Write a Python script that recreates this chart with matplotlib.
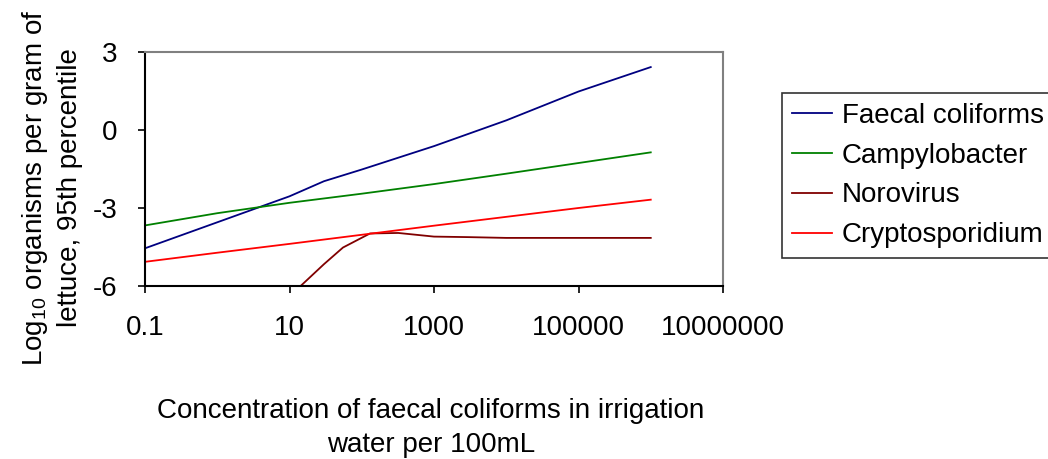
import matplotlib
matplotlib.use("Agg")
import matplotlib.pyplot as plt

plt.rcParams['font.family'] = ['Liberation Sans', 'DejaVu Sans']
plt.rcParams['mathtext.fontset'] = 'custom'
plt.rcParams['mathtext.rm'] = 'Liberation Sans'

# concentrations of faecal coliforms in irrigation water (per 100 mL)
fc_x = [0.1, 1, 10, 30, 100, 1000, 10000, 100000, 1000000]
fc_y = [-4.55, -3.55, -2.55, -1.97, -1.52, -0.62, 0.37, 1.48, 2.42]

campy_x = [0.1, 1, 10, 100, 1000, 10000, 100000, 1000000]
campy_y = [-3.67, -3.2, -2.8, -2.45, -2.08, -1.68, -1.27, -0.86]

noro_x = [10, 30, 55, 130, 320, 1000, 3000, 10000, 100000, 1000000]
noro_y = [-6.4, -5.16, -4.52, -3.98, -3.96, -4.10, -4.12, -4.15, -4.15, -4.15]

crypto_x = [0.1, 1, 10, 100, 1000, 10000, 100000, 1000000]
crypto_y = [-5.07, -4.72, -4.38, -4.03, -3.68, -3.34, -3.0, -2.68]

x_ticks = [0.1, 10, 1000, 100000, 10000000]
x_labels = ['0.1', '10', '1000', '100000', '10000000']
y_ticks = [3, 0, -3, -6]

fig = plt.figure(figsize=(10.48, 4.59), dpi=100)
ax = fig.add_axes([145 / 1048, 1 - 286 / 459, (723 - 145) / 1048, (286 - 52) / 459])

ax.plot(fc_x, fc_y, color='#000080', lw=1.3, label='Faecal coliforms')
ax.plot(campy_x, campy_y, color='#008000', lw=1.3, label='Campylobacter')
ax.plot(noro_x, noro_y, color='#800000', lw=1.3, label='Norovirus')
ax.plot(crypto_x, crypto_y, color='#FF0000', lw=1.3, label='Cryptosporidium')

ax.set_xscale('log')
ax.set_xlim(0.1, 10000000)
ax.set_ylim(-6, 3)
ax.set_xticks(x_ticks)
ax.set_xticklabels(x_labels)
ax.minorticks_off()
ax.set_yticks(y_ticks)
ax.set_yticklabels([str(v) for v in y_ticks])
ax.tick_params(axis='both', direction='out', length=5, width=1.2, labelsize=20)
ax.tick_params(axis='x', pad=16)
ax.tick_params(axis='y', pad=15)

for side in ['left', 'bottom']:
    ax.spines[side].set_color('black')
    ax.spines[side].set_linewidth(1.5)
for side in ['top', 'right']:
    ax.spines[side].set_color('#808080')
    ax.spines[side].set_linewidth(1.5)

fig.text(52 / 1048, 1 - 188 / 459,
         'Log$_{10}$ organisms per gram of\nlettuce, 95th percentile',
         rotation=90, ha='center', va='center', multialignment='center',
         fontsize=20, linespacing=1.35)
fig.text(431 / 1048, 1 - 428 / 459,
         'Concentration of faecal coliforms in irrigation\nwater per 100mL',
         ha='center', va='center', multialignment='center',
         fontsize=20, linespacing=1.4)

leg = ax.legend(loc='upper left', bbox_to_anchor=(782 / 1048, 1 - 93 / 459),
                bbox_transform=fig.transFigure, fontsize=20, frameon=True,
                fancybox=False, edgecolor='black', handlelength=1.45,
                handletextpad=0.35, labelspacing=0.5, borderpad=0.35,
                borderaxespad=0)
leg.get_frame().set_linewidth(1.2)

fig.savefig('out.png', dpi=100)
